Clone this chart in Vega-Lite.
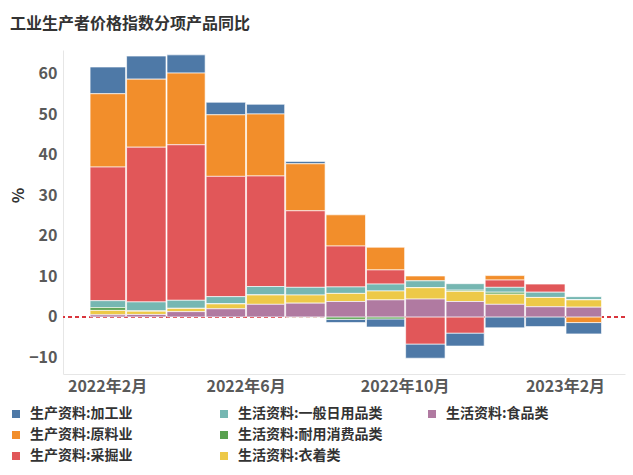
{
  "$schema": "https://vega.github.io/schema/vega-lite/v6.json",
  "width": 562,
  "height": 324,
  "autosize": {"type": "none"},
  "padding": {"left": 63, "top": 50, "right": 8, "bottom": 101},
  "background": "#ffffff",
  "config": {
    "font": "Noto Sans CJK SC",
    "view": {"stroke": null}
  },
  "title": {
    "text": "工业生产者价格指数分项产品同比",
    "anchor": "start",
    "frame": "group",
    "dx": -53,
    "offset": 18,
    "fontSize": 16,
    "fontWeight": "bold",
    "color": "#333333",
    "font": "Noto Sans CJK SC"
  },
  "data": {
    "values": [
      {"date": "2022/02/01", "category": "生产资料:加工业", "value": 6.6},
      {"date": "2022/02/01", "category": "生产资料:原料业", "value": 18.1},
      {"date": "2022/02/01", "category": "生产资料:采掘业", "value": 33.0},
      {"date": "2022/02/01", "category": "生活资料:一般日用品类", "value": 1.7},
      {"date": "2022/02/01", "category": "生活资料:耐用消费品类", "value": 0.7},
      {"date": "2022/02/01", "category": "生活资料:衣着类", "value": 1.1},
      {"date": "2022/02/01", "category": "生活资料:食品类", "value": 0.5},

      {"date": "2022/03/01", "category": "生产资料:加工业", "value": 5.7},
      {"date": "2022/03/01", "category": "生产资料:原料业", "value": 16.8},
      {"date": "2022/03/01", "category": "生产资料:采掘业", "value": 38.2},
      {"date": "2022/03/01", "category": "生活资料:一般日用品类", "value": 2.2},
      {"date": "2022/03/01", "category": "生活资料:耐用消费品类", "value": 0.1},
      {"date": "2022/03/01", "category": "生活资料:衣着类", "value": 0.8},
      {"date": "2022/03/01", "category": "生活资料:食品类", "value": 0.6},

      {"date": "2022/04/01", "category": "生产资料:加工业", "value": 4.5},
      {"date": "2022/04/01", "category": "生产资料:原料业", "value": 17.7},
      {"date": "2022/04/01", "category": "生产资料:采掘业", "value": 38.4},
      {"date": "2022/04/01", "category": "生活资料:一般日用品类", "value": 2.0},
      {"date": "2022/04/01", "category": "生活资料:耐用消费品类", "value": 0.0},
      {"date": "2022/04/01", "category": "生活资料:衣着类", "value": 0.8},
      {"date": "2022/04/01", "category": "生活资料:食品类", "value": 1.3},

      {"date": "2022/05/01", "category": "生产资料:加工业", "value": 3.1},
      {"date": "2022/05/01", "category": "生产资料:原料业", "value": 15.2},
      {"date": "2022/05/01", "category": "生产资料:采掘业", "value": 29.7},
      {"date": "2022/05/01", "category": "生活资料:一般日用品类", "value": 1.8},
      {"date": "2022/05/01", "category": "生活资料:耐用消费品类", "value": 0.0},
      {"date": "2022/05/01", "category": "生活资料:衣着类", "value": 1.2},
      {"date": "2022/05/01", "category": "生活资料:食品类", "value": 2.0},

      {"date": "2022/06/01", "category": "生产资料:加工业", "value": 2.4},
      {"date": "2022/06/01", "category": "生产资料:原料业", "value": 15.3},
      {"date": "2022/06/01", "category": "生产资料:采掘业", "value": 27.3},
      {"date": "2022/06/01", "category": "生活资料:一般日用品类", "value": 2.1},
      {"date": "2022/06/01", "category": "生活资料:耐用消费品类", "value": 0.0},
      {"date": "2022/06/01", "category": "生活资料:衣着类", "value": 2.3},
      {"date": "2022/06/01", "category": "生活资料:食品类", "value": 3.1},

      {"date": "2022/07/01", "category": "生产资料:加工业", "value": 0.6},
      {"date": "2022/07/01", "category": "生产资料:原料业", "value": 11.6},
      {"date": "2022/07/01", "category": "生产资料:采掘业", "value": 18.9},
      {"date": "2022/07/01", "category": "生活资料:一般日用品类", "value": 1.9},
      {"date": "2022/07/01", "category": "生活资料:耐用消费品类", "value": -0.1},
      {"date": "2022/07/01", "category": "生活资料:衣着类", "value": 2.0},
      {"date": "2022/07/01", "category": "生活资料:食品类", "value": 3.4},

      {"date": "2022/08/01", "category": "生产资料:加工业", "value": -0.8},
      {"date": "2022/08/01", "category": "生产资料:原料业", "value": 7.7},
      {"date": "2022/08/01", "category": "生产资料:采掘业", "value": 10.1},
      {"date": "2022/08/01", "category": "生活资料:一般日用品类", "value": 1.6},
      {"date": "2022/08/01", "category": "生活资料:耐用消费品类", "value": -0.6},
      {"date": "2022/08/01", "category": "生活资料:衣着类", "value": 2.0},
      {"date": "2022/08/01", "category": "生活资料:食品类", "value": 3.8},

      {"date": "2022/09/01", "category": "生产资料:加工业", "value": -2.0},
      {"date": "2022/09/01", "category": "生产资料:原料业", "value": 5.6},
      {"date": "2022/09/01", "category": "生产资料:采掘业", "value": 3.5},
      {"date": "2022/09/01", "category": "生活资料:一般日用品类", "value": 1.7},
      {"date": "2022/09/01", "category": "生活资料:耐用消费品类", "value": -0.5},
      {"date": "2022/09/01", "category": "生活资料:衣着类", "value": 2.2},
      {"date": "2022/09/01", "category": "生活资料:食品类", "value": 4.2},

      {"date": "2022/10/01", "category": "生产资料:加工业", "value": -3.5},
      {"date": "2022/10/01", "category": "生产资料:原料业", "value": 1.2},
      {"date": "2022/10/01", "category": "生产资料:采掘业", "value": -6.7},
      {"date": "2022/10/01", "category": "生活资料:一般日用品类", "value": 1.7},
      {"date": "2022/10/01", "category": "生活资料:耐用消费品类", "value": 0.0},
      {"date": "2022/10/01", "category": "生活资料:衣着类", "value": 2.8},
      {"date": "2022/10/01", "category": "生活资料:食品类", "value": 4.4},

      {"date": "2022/11/01", "category": "生产资料:加工业", "value": -3.2},
      {"date": "2022/11/01", "category": "生产资料:原料业", "value": 0.0},
      {"date": "2022/11/01", "category": "生产资料:采掘业", "value": -4.0},
      {"date": "2022/11/01", "category": "生活资料:一般日用品类", "value": 1.6},
      {"date": "2022/11/01", "category": "生活资料:耐用消费品类", "value": 0.3},
      {"date": "2022/11/01", "category": "生活资料:衣着类", "value": 2.5},
      {"date": "2022/11/01", "category": "生活资料:食品类", "value": 3.8},

      {"date": "2022/12/01", "category": "生产资料:加工业", "value": -2.7},
      {"date": "2022/12/01", "category": "生产资料:原料业", "value": 1.1},
      {"date": "2022/12/01", "category": "生产资料:采掘业", "value": 1.8},
      {"date": "2022/12/01", "category": "生活资料:一般日用品类", "value": 1.2},
      {"date": "2022/12/01", "category": "生活资料:耐用消费品类", "value": 0.5},
      {"date": "2022/12/01", "category": "生活资料:衣着类", "value": 2.5},
      {"date": "2022/12/01", "category": "生活资料:食品类", "value": 3.1},

      {"date": "2023/01/01", "category": "生产资料:加工业", "value": -2.4},
      {"date": "2023/01/01", "category": "生产资料:原料业", "value": 0.0},
      {"date": "2023/01/01", "category": "生产资料:采掘业", "value": 2.0},
      {"date": "2023/01/01", "category": "生活资料:一般日用品类", "value": 1.3},
      {"date": "2023/01/01", "category": "生活资料:耐用消费品类", "value": 0.0},
      {"date": "2023/01/01", "category": "生活资料:衣着类", "value": 2.3},
      {"date": "2023/01/01", "category": "生活资料:食品类", "value": 2.5},

      {"date": "2023/02/01", "category": "生产资料:加工业", "value": -2.8},
      {"date": "2023/02/01", "category": "生产资料:原料业", "value": -1.4},
      {"date": "2023/02/01", "category": "生产资料:采掘业", "value": 0.0},
      {"date": "2023/02/01", "category": "生活资料:一般日用品类", "value": 0.8},
      {"date": "2023/02/01", "category": "生活资料:耐用消费品类", "value": 0.0},
      {"date": "2023/02/01", "category": "生活资料:衣着类", "value": 1.8},
      {"date": "2023/02/01", "category": "生活资料:食品类", "value": 2.4}
    ]
  },
  "layer": [
    {
      "mark": {"type": "rule", "color": "#d9363e", "strokeDash": [4, 3], "strokeWidth": 1.5},
      "encoding": {"y": {"datum": 0, "type": "quantitative"}}
    },
    {
      "mark": {"type": "bar", "stroke": "#ffffff", "strokeWidth": 0.8, "strokeOpacity": 0.8},
      "encoding": {
        "x": {
          "field": "date",
          "timeUnit": "yearmonth",
          "type": "temporal",
          "scale": {
            "domain": [{"year": 2022, "month": 1, "date": 12}, {"year": 2023, "month": 3, "date": 19}],
            "padding": 0,
            "nice": false
          },
          "axis": {
            "title": null,
            "values": [
              {"year": 2022, "month": 2, "date": 1},
              {"year": 2022, "month": 6, "date": 1},
              {"year": 2022, "month": 10, "date": 1},
              {"year": 2023, "month": 2, "date": 1}
            ],
            "labelExpr": "timeFormat(datum.value, '%Y') + '年' + (month(datum.value) + 1) + '月'",
            "labelFontSize": 16,
            "labelFontWeight": "bold",
            "labelColor": "#595959",
            "labelFlush": false,
            "labelOverlap": false,
            "labelOffset": {"condition": {"test": "year(datum.value) == 2022 && month(datum.value) == 1", "value": 18}, "value": 0},
            "labelPadding": 4,
            "ticks": false,
            "grid": false,
            "domainColor": "#e6e6e6"
          }
        },
        "y": {
          "field": "value",
          "type": "quantitative",
          "stack": "zero",
          "scale": {"domain": [-14.1, 65.9], "nice": false, "zero": false},
          "axis": {
            "title": "%",
            "titleFontSize": 16,
            "titleFontWeight": "bold",
            "titleColor": "#333333",
            "titleX": -37,
            "titleY": 145,
            "values": [-10, 0, 10, 20, 30, 40, 50, 60],
            "labelFontSize": 16,
            "labelFontWeight": "bold",
            "labelColor": "#595959",
            "labelPadding": 6,
            "ticks": false,
            "gridColor": "#f0f0f0",
            "domainColor": "#e6e6e6"
          }
        },
        "color": {
          "field": "category",
          "type": "nominal",
          "scale": {
            "domain": ["生产资料:加工业", "生活资料:一般日用品类", "生活资料:食品类", "生产资料:原料业", "生活资料:耐用消费品类", " ", "生产资料:采掘业", "生活资料:衣着类"],
            "range": ["#4e79a7", "#76b7b2", "#b07aa1", "#f28e2b", "#59a14f", "rgba(255,255,255,0)", "#e15759", "#edc948"]
          },
          "legend": {
            "title": null,
            "orient": "none",
            "legendX": -54,
            "legendY": 357,
            "direction": "horizontal",
            "columns": 3,
            "gridAlign": "all",
            "columnPadding": 42,
            "rowPadding": 7,
            "symbolType": "square",
            "symbolSize": 64,
            "symbolStrokeWidth": 0,
            "labelFontSize": 14,
            "labelFontWeight": "bold",
            "labelColor": "#333333",
            "labelOffset": 7,
            "labelLimit": 300
          }
        },
        "order": {"field": "category", "sort": "descending"}
      }
    }
  ]
}
